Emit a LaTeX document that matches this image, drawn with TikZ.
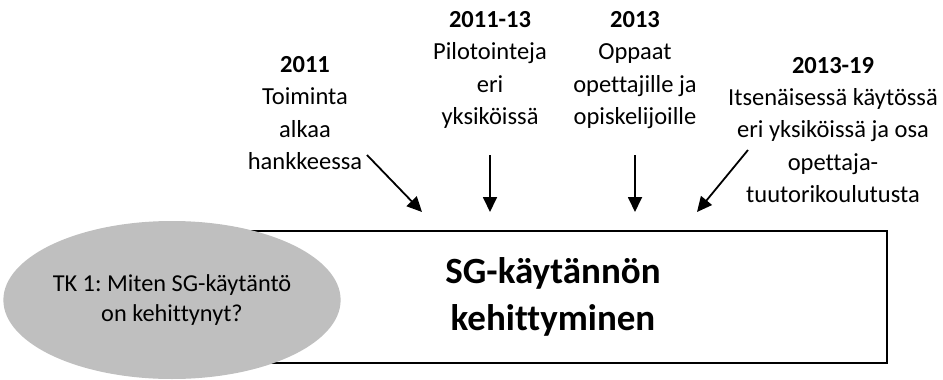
\documentclass[tikz,border=0pt]{standalone}
\usepackage{fontspec}
\setmainfont{Carlito}[Ligatures=NoCommon]
\usetikzlibrary{arrows.meta,shapes.geometric}
\definecolor{ovalgray}{HTML}{BFBFBF}
\frenchspacing
\tikzset{
  label block/.style={align=center, inner sep=0pt, font=\fontsize{24.5}{32.3}\selectfont},
  pointer/.style={line width=1.8pt, -{Triangle[length=15pt,width=14pt]}},
}
\begin{document}
\begin{tikzpicture}[x=1pt,y=-1pt]
  \useasboundingbox (0,0) rectangle (943,380);
  % main box
  \node[draw, line width=1.8pt, minimum width=668pt, minimum height=132pt, inner sep=0pt,
        font=\fontsize{37}{47}\selectfont\bfseries, align=center]
        (box) at (553,297) {SG-käytännön\\kehittyminen};
  % research question oval
  \node[ellipse, fill=ovalgray, minimum width=330pt, minimum height=158pt, inner sep=0pt,
        font=\fontsize{24.3}{30}\selectfont, align=center]
        (rq) at (172,300) {TK 1: Miten SG-käytäntö\\on kehittynyt?};
  % timeline labels
  \node[label block] (t1) at (305,113) {\textbf{2011}\\Toiminta\\alkaa\\hankkeessa};
  \node[label block] (t2) at (490,70) {\textbf{2011-13}\\Pilotointeja\\eri\\yksiköissä};
  \node[label block] (t3) at (635,70) {\textbf{2013}\\Oppaat\\opettajille ja\\opiskelijoille};
  \node[label block] (t4) at (833,130) {\textbf{2013-19}\\Itsenäisessä käytössä\\eri yksiköissä ja osa\\opettaja-\\tuutorikoulutusta};
  % arrow ends
  \coordinate (s1) at (367,155);  \coordinate (e1) at (422,212);
  \coordinate (s2) at (490,155);  \coordinate (e2) at (490,212);
  \coordinate (s3) at (635,155);  \coordinate (e3) at (635,212);
  \coordinate (s4) at (748,150);  \coordinate (e4) at (697,212);
  \draw[pointer] (s1) -- (e1);
  \draw[pointer] (s2) -- (e2);
  \draw[pointer] (s3) -- (e3);
  \draw[pointer] (s4) -- (e4);
\end{tikzpicture}
\end{document}
